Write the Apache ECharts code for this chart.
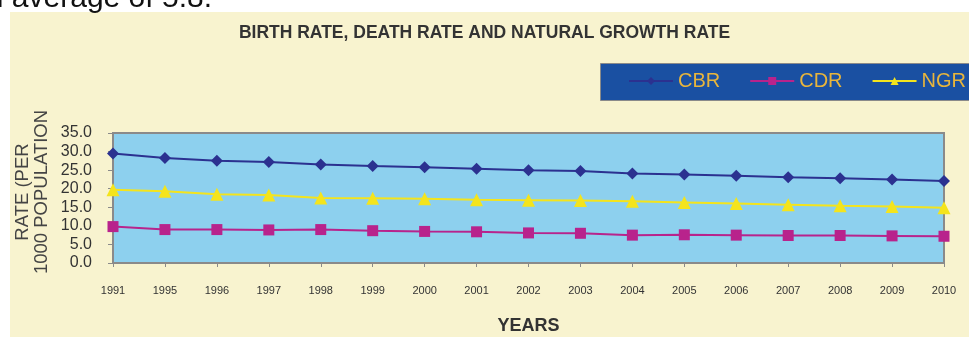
<!DOCTYPE html>
<html>
<head>
<meta charset="utf-8">
<script src="https://cdn.jsdelivr.net/npm/echarts@6/dist/echarts.min.js"></script>
<style>html,body{margin:0;padding:0;background:#fff;}#c{width:969px;height:337px;}</style>
</head>
<body>
<div id="c"></div>
<script>
var years = ['1991','1995','1996','1997','1998','1999','2000','2001','2002','2003','2004','2005','2006','2007','2008','2009','2010'];
var cbr = [29.5, 28.3, 27.5, 27.2, 26.5, 26.1, 25.8, 25.4, 25.0, 24.8, 24.1, 23.8, 23.5, 23.1, 22.8, 22.5, 22.1];
var cdr = [9.8, 9.0, 9.0, 8.9, 9.0, 8.7, 8.5, 8.4, 8.1, 8.0, 7.5, 7.6, 7.5, 7.4, 7.4, 7.3, 7.2];
var ngr = [19.7, 19.3, 18.5, 18.3, 17.5, 17.4, 17.3, 17.0, 16.9, 16.8, 16.6, 16.3, 16.0, 15.7, 15.4, 15.2, 14.9];
var yMin = 0, yMax = 35, yStep = 5;

var font = 'Liberation Sans, Arial, sans-serif';
var chart = echarts.init(document.getElementById('c'));
chart.setOption({
  backgroundColor: '#ffffff',
  animation: false,
  title: {
    text: 'BIRTH RATE, DEATH RATE AND NATURAL GROWTH RATE',
    left: 'center', top: 19,
    textStyle: { fontFamily: font, fontSize: 17.5, fontWeight: 'bold', color: '#333333' }
  },
  graphic: [
    { type: 'rect', z: -10, shape: { x: 10, y: 12, width: 970, height: 330 }, style: { fill: '#f8f3cf' } },
    { type: 'rect', z: -5, shape: { x: 600.5, y: 63.5, width: 380, height: 37 }, style: { fill: '#1a50a2', stroke: '#8a8a8a', lineWidth: 1 } },
    { type: 'text', z: 10, x: 212, y: -1, style: { text: 'an average of 5.8.', fontFamily: font, fontSize: 30, fill: '#111111', align: 'right', verticalAlign: 'middle' } },
    { type: 'text', z: 10, x: 32, y: 192, rotation: Math.PI / 2,
      style: { text: 'RATE (PER\n1000 POPULATION', fontFamily: font, fontSize: 18.5, lineHeight: 19, fill: '#444444', align: 'center', verticalAlign: 'middle' } }
  ],
  legend: {
    left: 600, top: 62,
    padding: [9, 0, 9, 28],
    itemWidth: 44, itemHeight: 10, itemGap: 29,
    textStyle: { fontFamily: font, fontSize: 20, color: '#e8b53c' },
    data: ['CBR', 'CDR', 'NGR']
  },
  grid: {
    left: 113, right: 25, top: 133, bottom: 74,
    show: true, backgroundColor: '#8dd0ee', borderColor: '#8a8a8a', borderWidth: 2
  },
  xAxis: {
    type: 'category', data: years, boundaryGap: false,
    name: 'YEARS', nameLocation: 'middle', nameGap: 54,
    nameTextStyle: { fontFamily: font, fontSize: 18, fontWeight: 'bold', color: '#333333' },
    axisLine: { lineStyle: { color: '#8a8a8a', width: 1.5 } },
    axisTick: { show: true, inside: false, length: 4, alignWithLabel: true, lineStyle: { color: '#8a8a8a' } },
    axisLabel: { fontFamily: font, fontSize: 11, color: '#333333', margin: 22, interval: 0 },
    splitLine: { show: false }
  },
  yAxis: {
    type: 'value', min: yMin, max: yMax, interval: yStep,
    axisLine: { show: true, lineStyle: { color: '#8a8a8a', width: 1.5 } },
    axisTick: { show: true, inside: false, length: 5, lineStyle: { color: '#8a8a8a' } },
    axisLabel: { fontFamily: font, fontSize: 16, color: '#333333', margin: 21, formatter: function (v) { return v.toFixed(1); } },
    splitLine: { show: false }
  },
  series: [
    { name: 'CBR', type: 'line', data: cbr, symbol: 'diamond', symbolSize: 12,
      itemStyle: { color: '#2b3190' }, lineStyle: { color: '#2b3190', width: 2 } },
    { name: 'CDR', type: 'line', data: cdr, symbol: 'rect', symbolSize: 11,
      itemStyle: { color: '#b8238c' }, lineStyle: { color: '#b8238c', width: 2 } },
    { name: 'NGR', type: 'line', data: ngr, symbol: 'triangle', symbolSize: 13,
      itemStyle: { color: '#f4e41c' }, lineStyle: { color: '#f4e41c', width: 2 } }
  ]
});
</script>
</body>
</html>
